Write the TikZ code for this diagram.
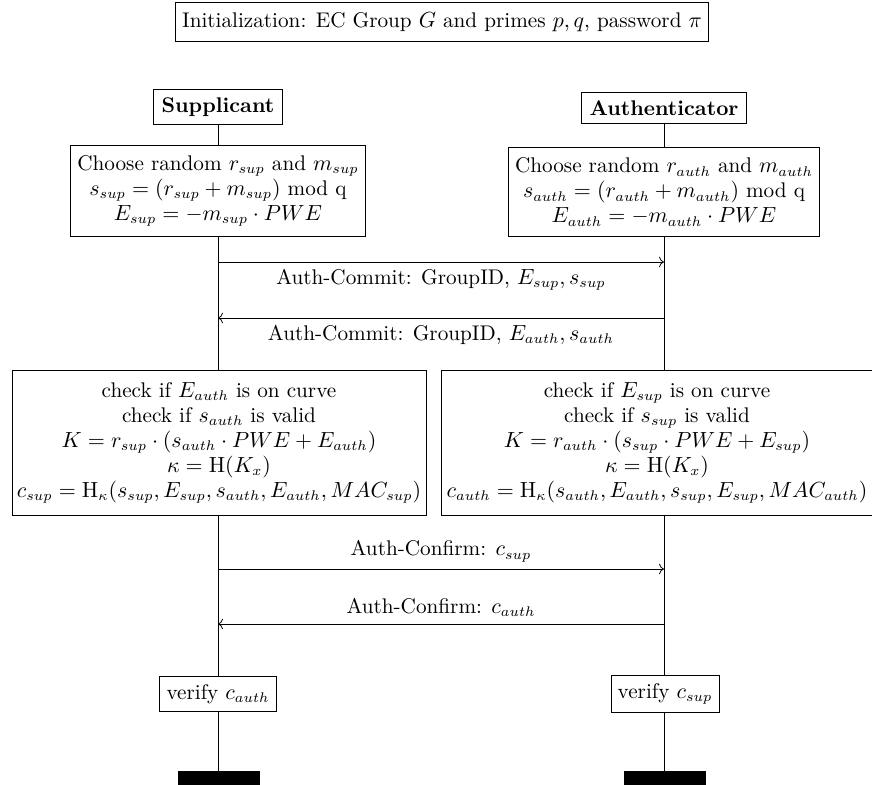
\documentclass[tikz,border=0pt]{standalone}
\usetikzlibrary{arrows.meta,positioning}

\begin{document}
\begin{tikzpicture}[x=0.5pt, y=-0.5pt,
  every node/.style={font=\fontsize{10.6}{12.5}\selectfont},
  actor/.style={draw, font=\fontsize{10.6}{12.5}\selectfont\bfseries, inner sep=4pt},
  calcbox/.style={draw, align=center, fill=white},
  msg/.style={->},
  endbar/.style={fill=black, draw=none, minimum width=41pt, minimum height=7pt, inner sep=0pt},
]
  \useasboundingbox (0,0) rectangle (872,785);

  \node[draw, inner ysep=5pt] (init) at (442,22) {Initialization: EC Group $G$ and primes $p, q$, password $\pi$};

  % parties
  \node[actor] (sup) at (218,107) {Supplicant};
  \node[actor] (auth) at (664,108) {Authenticator};

  % commit values
  \node[calcbox, inner ysep=5pt] (supinit) at (218,191) {Choose random $r_{sup}$ and $m_{sup}$\\
    $s_{sup} = (r_{sup} + m_{sup})$ mod q\\
    $E_{sup} = -m_{sup} \cdot PWE$};
  \node[calcbox, inner ysep=5pt] (authinit) at (664,192) {Choose random $r_{auth}$ and $m_{auth}$\\
    $s_{auth} = (r_{auth} + m_{auth})$ mod q\\
    $E_{auth} = -m_{auth} \cdot PWE$};

  \coordinate (c1s) at (218,262);
  \coordinate (c1a) at (664,262);
  \coordinate (c2s) at (218,318);
  \coordinate (c2a) at (664,318);
  \draw[msg] (c1s) -- node[below] {Auth-Commit: GroupID, $E_{sup}, s_{sup}$} (c1a);
  \draw[msg] (c2a) -- node[below] {Auth-Commit: GroupID, $E_{auth}, s_{auth}$} (c2s);

  % key derivation
  \node[calcbox, inner ysep=6pt, inner xsep=2.5pt] (supcheck) at (219,443) {check if $E_{auth}$ is on curve\\
    check if $s_{auth}$ is valid\\
    $K = r_{sup} \cdot (s_{auth} \cdot PWE + E_{auth})$\\
    $\kappa = \mathrm{H}(K_x)$\\
    $c_{sup} = \mathrm{H}_\kappa(s_{sup}, E_{sup}, s_{auth}, E_{auth}, MAC_{sup})$};
  \node[calcbox, inner ysep=6pt, inner xsep=2.5pt] (authcheck) at (657,443) {check if $E_{sup}$ is on curve\\
    check if $s_{sup}$ is valid\\
    $K = r_{auth} \cdot (s_{sup} \cdot PWE + E_{sup})$\\
    $\kappa = \mathrm{H}(K_x)$\\
    $c_{auth} = \mathrm{H}_\kappa(s_{auth}, E_{auth}, s_{sup}, E_{sup}, MAC_{auth})$};

  \coordinate (f1s) at (218,569);
  \coordinate (f1a) at (664,569);
  \coordinate (f2s) at (218,624);
  \coordinate (f2a) at (664,624);
  \draw[msg] (f1s) -- node[above] {Auth-Confirm: $c_{sup}$} (f1a);
  \draw[msg] (f2a) -- node[above] {Auth-Confirm: $c_{auth}$} (f2s);

  % verification
  \node[calcbox, inner ysep=4pt] (supverify) at (218,694) {verify $c_{auth}$};
  \node[calcbox, inner ysep=4pt] (authverify) at (665,694) {verify $c_{sup}$};

  \node[endbar] (supend) at (219,778) {};
  \node[endbar] (authend) at (665,778) {};

  % lifelines
  \draw (sup) -- (supinit);
  \draw (supinit) -- (supinit.south |- supcheck.north);
  \draw (supinit.south |- supcheck.south) -- (supinit.south |- supverify.north);
  \draw (supverify) -- (supverify.south |- supend.north);
  \draw (auth) -- (authinit);
  \draw (authinit) -- (authinit.south |- authcheck.north);
  \draw (authinit.south |- authcheck.south) -- (authinit.south |- authverify.north);
  \draw (authverify.south -| authinit.south) -- (authinit.south |- authend.north);
\end{tikzpicture}
\end{document}
